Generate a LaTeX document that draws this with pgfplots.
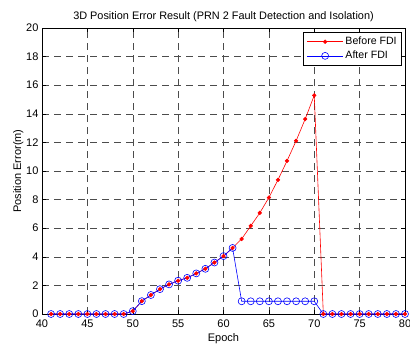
\documentclass[border=0pt]{standalone}
\usepackage{pgfplots}
\pgfplotsset{compat=1.18}
\usepackage{fontspec}
\setmainfont{Liberation Sans}
\begin{document}
\begin{tikzpicture}
\begin{axis}[
  scale only axis,
  width=363pt, height=286pt,
  xmin=40, xmax=80, ymin=0, ymax=20,
  xtick={40,45,...,80}, ytick={0,2,...,20},
  /pgf/number format/assume math mode=true,
  tick label style={font=\fontsize{11}{12}\selectfont},
  label style={font=\fontsize{11}{12}\selectfont},
  title style={font=\fontsize{10.9}{12}\selectfont, yshift=-3pt},
  title={3D Position Error Result (PRN 2 Fault Detection and Isolation)},
  xlabel={Epoch}, ylabel={Position Error(m)},
  xlabel style={yshift=1pt}, ylabel style={yshift=-4pt},
  xticklabel style={yshift=-2pt},
  grid=major,
  major grid style={black!70, dash pattern=on 7pt off 5pt, line width=0.5pt},
  axis line style={black, line width=0.8pt},
  tick style={black, line width=0.5pt},
  major tick length=4pt,
  tick align=inside,
  legend image code/.code={\draw[mark repeat=2,mark phase=2] plot coordinates {(0pt,0pt)(18pt,0pt)(36pt,0pt)};},
  legend style={at={(0.992,0.987)}, anchor=north east, draw=black, line width=0.8pt,
    font=\fontsize{10.6}{12}\selectfont, row sep=1pt, inner sep=3pt},
  legend cell align=left,
]
\addplot[red, line width=0.6pt, mark=*, mark size=1.8pt, mark options={fill=red}] coordinates {
(41,0)(42,0)(43,0)(44,0)(45,0)(46,0)(47,0)(48,0)(49,0)
(50,0.2)(51,0.9)(52,1.33)(53,1.74)(54,2.07)(55,2.33)(56,2.53)(57,2.84)(58,3.16)(59,3.6)(60,4.05)
(61,4.62)(62,5.25)(63,6.16)(64,7.07)(65,8.14)(66,9.38)(67,10.71)(68,12.11)(69,13.63)(70,15.29)
(71,0)(72,0)(73,0)(74,0)(75,0)(76,0)(77,0)(78,0)(79,0)(80,0)
};
\addlegendentry{Before FDI}
\addplot[blue, line width=0.6pt, mark=o, mark size=3.5pt, mark options={line width=0.6pt}] coordinates {
(41,0)(42,0)(43,0)(44,0)(45,0)(46,0)(47,0)(48,0)(49,0)
(50,0.2)(51,0.9)(52,1.33)(53,1.74)(54,2.07)(55,2.33)(56,2.53)(57,2.84)(58,3.16)(59,3.6)(60,4.05)
(61,4.62)(62,0.89)(63,0.89)(64,0.89)(65,0.89)(66,0.89)(67,0.89)(68,0.89)(69,0.89)(70,0.89)
(71,0)(72,0)(73,0)(74,0)(75,0)(76,0)(77,0)(78,0)(79,0)(80,0)
};
\addlegendentry{After FDI}
\end{axis}
\pgfresetboundingbox
\path[use as bounding box] ([xshift=-42pt,yshift=-29pt]current axis.south west) rectangle ([xshift=5pt,yshift=28pt]current axis.north east);
\end{tikzpicture}
\end{document}
